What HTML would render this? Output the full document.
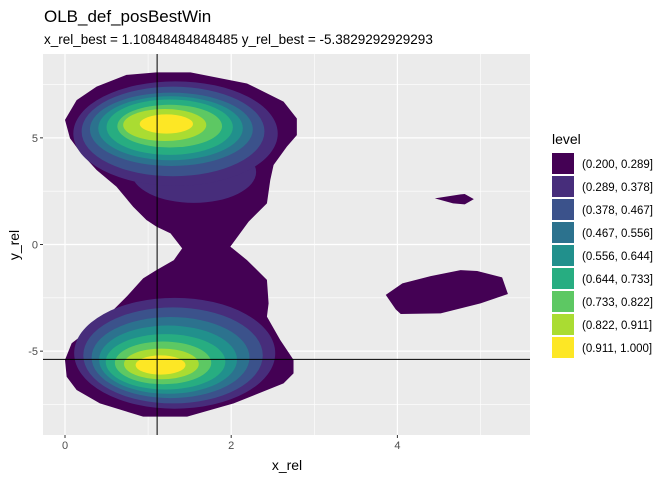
<!DOCTYPE html>
<html><head><meta charset="utf-8"><style>
body{margin:0;background:#fff;font-family:"Liberation Sans",sans-serif}
svg text{font-family:"Liberation Sans",sans-serif}
</style></head><body>
<svg id="c" width="672" height="480">
<text x="44" y="22" font-size="17" fill="#000">OLB_def_posBestWin</text>
<text x="44" y="44" font-size="13.5" fill="#000">x_rel_best = 1.10848484848485 y_rel_best = -5.3829292929293</text>
<defs><clipPath id="pc"><rect x="43" y="54" width="487" height="381"/></clipPath></defs>
<rect x="43" y="54" width="487" height="381" fill="#ebebeb"/>
<g id="grid"></g>
<g id="marks" clip-path="url(#pc)"></g>
<g id="ref"></g>
<g id="axes"></g>
<text x="287" y="470" font-size="14" text-anchor="middle">x_rel</text>
<text transform="translate(19,245) rotate(-90)" font-size="14" text-anchor="middle">y_rel</text>
<g id="legend"></g>
</svg>
<script>
const levelLabels=["(0.200, 0.289]","(0.289, 0.378]","(0.378, 0.467]","(0.467, 0.556]","(0.556, 0.644]","(0.644, 0.733]","(0.733, 0.822]","(0.822, 0.911]","(0.911, 1.000]"];
const levelColors=["#440154","#472D7B","#3B528B","#2C728E","#21908C","#27AD81","#5DC863","#AADC32","#FDE725"];
const xTicks=[0,2,4];
const yTicks=[-5,0,5];
const xMinor=[1,3,5];
const yMinor=[-7.5,-2.5,2.5,7.5];
const bestX=1.10848484848485, bestY=-5.3829292929293;
const outerMain=[[0,5.84],[.14,6.77],[.38,7.4],[.74,7.95],[1.1,8.07],[1.51,8.07],[2.19,7.55],[2.63,6.7],[2.79,5.91],[2.79,5.13],[2.67,4.59],[2.51,3.73],[2.47,3.02],[2.43,1.93],[2.21,1.07],[1.99,-.1],[2.19,-.73],[2.43,-1.66],[2.45,-2.76],[2.43,-3.38],[2.59,-4.48],[2.75,-5.41],[2.75,-6.04],[2.63,-6.51],[2.03,-7.45],[1.47,-8.07],[.94,-8.07],[.42,-7.45],[.14,-6.82],[.02,-6.2],[0,-5.41],[.08,-4.63],[.34,-3.85],[.58,-3.07],[.74,-2.45],[.94,-1.59],[1.1,-1.2],[1.31,-.73],[1.41,-.18],[1.27,.52],[1.1,.84],[.98,1.15],[.82,1.77],[.62,2.71],[.38,3.49],[.18,4.35],[.06,4.98]];
const outerSmall=[[4.45,2.16],[4.76,2.35],[4.81,2.37],[4.92,2.13],[4.81,1.88],[4.67,1.93]];
const outerRight=[[3.86,-2.36],[4.06,-1.82],[4.4,-1.48],[4.76,-1.2],[4.96,-1.24],[5.26,-1.54],[5.33,-2.32],[5,-2.76],[4.52,-3.23],[4.04,-3.26],[3.98,-3.04]];
// extra level-2 bulge below the top peak: cx, cy, rx, ry
const topBulge=[1.55,3.4,.75,1.45];
const topPeak=[[1.33,5.2,1.23,2.45],[1.3,5.3,1.1,2.1],[1.28,5.4,.98,1.72],[1.27,5.45,.87,1.5],[1.26,5.5,.76,1.3],[1.26,5.55,.63,1.0],[1.2,5.6,.5,.75],[1.22,5.65,.32,.45]];
const botPeak=[[1.32,-5.1,1.21,2.6],[1.3,-5.2,1.08,2.25],[1.27,-5.3,.95,1.9],[1.24,-5.4,.83,1.6],[1.21,-5.5,.72,1.3],[1.18,-5.55,.58,1.0],[1.16,-5.6,.45,.72],[1.15,-5.65,.3,.45]];
const X0=43,X1=530,Y0=54,Y1=435;
const sx=v=>65+v*83.1, sy=v=>244.5-v*21.33;
const NS="http://www.w3.org/2000/svg";
function mk(t,a,p){const e=document.createElementNS(NS,t);for(const k in a)e.setAttribute(k,a[k]);p.appendChild(e);return e;}
const grid=document.getElementById('grid');
xMinor.forEach(v=>{const l=mk('line',{x1:sx(v),x2:sx(v),y1:Y0,y2:Y1,stroke:'#fff','stroke-width':.6},grid);

});
yMinor.forEach(v=>{const l=mk('line',{x1:X0,x2:X1,y1:sy(v),y2:sy(v),stroke:'#fff','stroke-width':.6},grid);

});
xTicks.forEach(v=>{const l=mk('line',{x1:sx(v),x2:sx(v),y1:Y0,y2:Y1,stroke:'#fff','stroke-width':1.2},grid);

});
yTicks.forEach(v=>{const l=mk('line',{x1:X0,x2:X1,y1:sy(v),y2:sy(v),stroke:'#fff','stroke-width':1.2},grid);

});
const marks=document.getElementById('marks');
[outerMain,outerSmall,outerRight].forEach(poly=>{
 const p=mk('polygon',{points:poly.map(q=>sx(q[0])+','+sy(q[1])).join(' '),fill:levelColors[0]},marks);
 
 
});
const bg=mk('ellipse',{cx:sx(topBulge[0]),cy:sy(topBulge[1]),rx:topBulge[2]*83.1,ry:topBulge[3]*21.33,fill:levelColors[1]},marks);


[topPeak,botPeak].forEach(pk=>pk.forEach((e,i)=>{
 const el=mk('ellipse',{cx:sx(e[0]),cy:sy(e[1]),rx:e[2]*83.1,ry:e[3]*21.33,fill:levelColors[i+1]},marks);
 
 
}));
const ref=document.getElementById('ref');
const vl=mk('line',{x1:sx(bestX),x2:sx(bestX),y1:Y0,y2:Y1,stroke:'#000','stroke-width':1},ref);


const hl=mk('line',{x1:X0,x2:X1,y1:sy(bestY),y2:sy(bestY),stroke:'#000','stroke-width':1},ref);


const axes=document.getElementById('axes');
xTicks.forEach(v=>{mk('line',{x1:sx(v),x2:sx(v),y1:Y1,y2:Y1+3,stroke:'#333'},axes);
 const t=mk('text',{x:sx(v),y:Y1+14,'font-size':11,fill:'#4d4d4d','text-anchor':'middle'},axes);t.textContent=v;
 
 });
yTicks.forEach(v=>{mk('line',{x1:X0-3,x2:X0,y1:sy(v),y2:sy(v),stroke:'#333'},axes);
 const t=mk('text',{x:X0-5,y:sy(v)+4,'font-size':11,fill:'#4d4d4d','text-anchor':'end'},axes);t.textContent=v;
 
 });
const lg=document.getElementById('legend');
const lt=mk('text',{x:552,y:144,'font-size':14},lg);lt.textContent='level';


levelLabels.forEach((s,i)=>{
 const y=153+i*23;
 const r=mk('rect',{x:552,y:y,width:22,height:21,fill:levelColors[i]},lg);
 
 
 const t=mk('text',{x:582,y:y+15,'font-size':11.5,fill:'#000'},lg);t.textContent=s;
 
 
});
</script>
</body></html>
